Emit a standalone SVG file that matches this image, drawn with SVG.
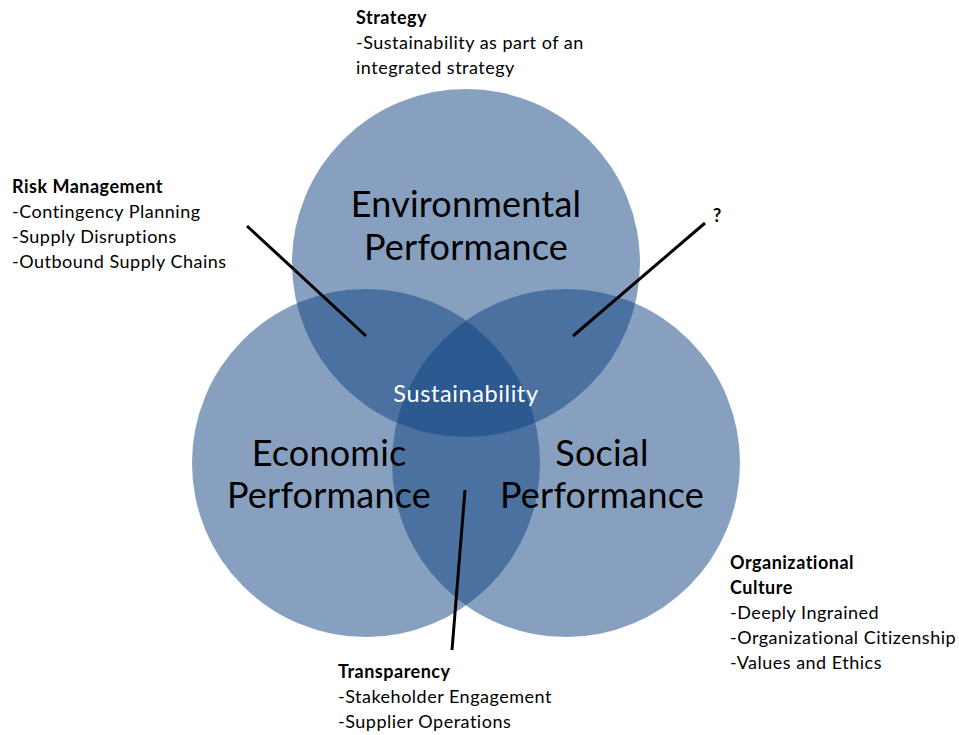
<svg xmlns="http://www.w3.org/2000/svg" width="959" height="735" viewBox="0 0 959 735">
  <style>
    .ring { fill: #0f4182; fill-opacity: 0.5; }
    .big { font-family: Lato, "Open Sans", sans-serif; font-size: 36px; letter-spacing: 0.2px; fill: #000; text-anchor: middle; }
    .core { font-family: Lato, "Open Sans", sans-serif; font-size: 23.5px; letter-spacing: 0.6px; fill: #fff; text-anchor: middle; }
    .note { font-family: Lato, "Open Sans", sans-serif; font-size: 18px; letter-spacing: 0.5px; fill: #000; }
    .head { font-weight: bold; }
    .lead { stroke: #000; stroke-width: 3; fill: none; }
  </style>
  <rect width="959" height="735" fill="#fff"/>

  <g id="environmental">
    <circle class="ring" cx="466" cy="263" r="174"/>
  </g>
  <g id="economic">
    <circle class="ring" cx="366" cy="463" r="174"/>
  </g>
  <g id="social">
    <circle class="ring" cx="566" cy="463" r="174"/>
  </g>

  <g id="connectors">
    <line class="lead" x1="247" y1="226" x2="366" y2="336"/>
    <line class="lead" x1="705" y1="223" x2="573" y2="336"/>
    <line class="lead" x1="465" y1="490" x2="452" y2="650"/>
  </g>

  <g id="labels-circles">
    <text class="big" x="466" y="217">Environmental</text>
    <text class="big" x="466" y="260">Performance</text>
    <text class="big" x="329" y="466">Economic</text>
    <text class="big" x="329" y="508">Performance</text>
    <text class="big" x="602" y="466">Social</text>
    <text class="big" x="602" y="508">Performance</text>
    <text class="core" x="466" y="402">Sustainability</text>
  </g>

  <g id="strategy">
    <text class="note head" x="356" y="24">Strategy</text>
    <text class="note" x="356" y="49">-Sustainability  as part of an</text>
    <text class="note" x="356" y="74">integrated  strategy</text>
  </g>

  <g id="risk-management">
    <text class="note head" x="12" y="193">Risk Management</text>
    <text class="note" x="12" y="218">-Contingency  Planning</text>
    <text class="note" x="12" y="243">-Supply Disruptions</text>
    <text class="note" x="12" y="268">-Outbound Supply Chains</text>
  </g>

  <g id="unknown">
    <text class="note head" x="713" y="222">?</text>
  </g>

  <g id="organizational-culture">
    <text class="note head" x="730" y="569">Organizational</text>
    <text class="note head" x="730" y="594">Culture</text>
    <text class="note" x="730" y="619">-Deeply Ingrained</text>
    <text class="note" x="730" y="644">-Organizational  Citizenship</text>
    <text class="note" x="730" y="669">-Values and Ethics</text>
  </g>

  <g id="transparency">
    <text class="note head" x="338" y="678">Transparency</text>
    <text class="note" x="338" y="703">-Stakeholder  Engagement</text>
    <text class="note" x="338" y="728">-Supplier Operations</text>
  </g>
</svg>
